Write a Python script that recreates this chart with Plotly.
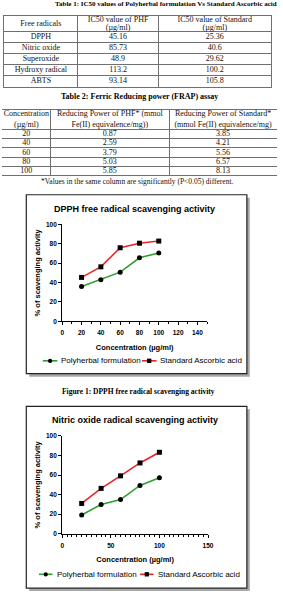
import plotly.graph_objects as go

W, H = 283, 604

# ---------------- data ----------------
t1_radicals = ["DPPH", "Nitric oxide", "Superoxide", "Hydroxy radical", "ABTS"]
t1_phf = ["45.16", "85.73", "48.9", "113.2", "93.14"]
t1_std = ["25.36", "40.6", "29.62", "100.2", "105.8"]
t1_header = ["Free radicals", "IC50 value of PHF<br>(µg/ml)", "IC50 value of Standard<br>(µg/ml)"]

t2_conc = ["20", "40", "60", "80", "100"]
t2_phf = ["0.87", "2.59", "3.79", "5.03", "5.85"]
t2_std = ["3.85", "4.21", "5.56", "6.57", "8.13"]
t2_header = ["Concentration<br>(µg/ml)", "Reducing Power of PHF* (mmol<br>Fe(II) equivalence/mg))",
             "Reducing Power of Standard*<br>(mmol Fe(II) equivalence/mg)"]

conc = [20, 40, 60, 80, 100]
dpph_poly = [35.8, 42.9, 50.7, 65.6, 70.5]
dpph_std = [45.3, 56.2, 75.9, 80.6, 82.8]
no_poly = [19.2, 30.0, 35.0, 49.4, 57.2]
no_std = [31.0, 46.4, 59.2, 72.4, 83.3]

series_names = ["Polyherbal formulation", "Standard Ascorbic acid"]

# ---------------- styles / layout constants ----------------
GREEN = "#2f9e2f"
RED = "#e8262a"
SERIF = "Liberation Serif"
SANS = "Liberation Sans"
LINE = "#707070"

T1_COLW = [76, 83, 116]
T1_HEAD_H, T1_ROW_H, T1_HEAD_GAP = 16, 11.2, 8
T2_COLW = [50, 122, 111]
T2_HEAD_H, T2_ROW_H, T2_HEAD_GAP = 20, 9.3, 10.5


def px(x):
    return x / W


def py(y):
    return 1 - y / H


def cum(vals):
    out = [0]
    for v in vals:
        out.append(out[-1] + v)
    return out


fig = go.Figure()


# ---------------- tables drawn on hidden axes ----------------
def add_table(n, header, columns, colw, head_h, row_h, head_gap, dom_x, top_px, side_border):
    xb = cum(colw)
    nrows = len(columns[0])
    yb = cum([head_h] + [row_h] * nrows)
    xs, ys, ts = [], [], []
    for c in range(len(columns)):
        xc = (xb[c] + xb[c + 1]) / 2
        lines = header[c].split("<br>")
        hc = (yb[0] + yb[1]) / 2
        for li, s in enumerate(lines):
            off = (li - (len(lines) - 1) / 2) * head_gap
            xs.append(xc); ys.append(hc + off); ts.append(s)
        for r, val in enumerate(columns[c]):
            xs.append(xc); ys.append((yb[r + 1] + yb[r + 2]) / 2); ts.append(val)
    fig.add_trace(go.Scatter(x=xs, y=ys, text=ts, mode="text", textposition="middle center",
                             textfont=dict(family=SERIF, size=8, color="#111"),
                             hoverinfo="skip", showlegend=False, cliponaxis=False,
                             xaxis=f"x{n}", yaxis=f"y{n}"))
    bottom_px = top_px + yb[-1]
    fig.update_layout(**{
        f"xaxis{n}": dict(domain=dom_x, anchor=f"y{n}", range=[0, xb[-1]],
                          tickvals=xb[1:-1], showgrid=True, gridcolor=LINE, gridwidth=1,
                          showticklabels=False, ticks="", zeroline=False,
                          showline=True, mirror=True, linecolor=LINE, linewidth=1),
        f"yaxis{n}": dict(domain=[py(bottom_px), py(top_px)], anchor=f"x{n}",
                          range=[yb[-1], 0], tickvals=yb[1:-1], showgrid=True,
                          gridcolor=LINE, gridwidth=1, showticklabels=False, ticks="",
                          zeroline=False, showline=side_border, mirror=side_border,
                          linecolor=LINE, linewidth=1),
    })


add_table(3, t1_header, [t1_radicals, t1_phf, t1_std], T1_COLW, T1_HEAD_H, T1_ROW_H,
          T1_HEAD_GAP, [px(2), px(277)], 12, True)
add_table(4, t2_header, [t2_conc, t2_phf, t2_std], T2_COLW, T2_HEAD_H, T2_ROW_H,
          T2_HEAD_GAP, [0, 1], 107, False)

# ---------------- line charts ----------------
for i, (poly, std) in enumerate([(dpph_poly, dpph_std), (no_poly, no_std)]):
    xa = "x" if i == 0 else "x2"
    ya = "y" if i == 0 else "y2"
    fig.add_trace(go.Scatter(x=conc, y=poly, mode="lines+markers", name=series_names[0],
                             line=dict(color=GREEN, width=1.6),
                             marker=dict(symbol="circle", size=5, color="black"),
                             xaxis=xa, yaxis=ya, showlegend=False, cliponaxis=False))
    fig.add_trace(go.Scatter(x=conc, y=std, mode="lines+markers", name=series_names[1],
                             line=dict(color=RED, width=1.6),
                             marker=dict(symbol="square", size=5, color="black"),
                             xaxis=xa, yaxis=ya, showlegend=False, cliponaxis=False))

tickfont = dict(family=SANS, size=6.5, color="black", weight="bold")
titlefont = dict(family=SANS, size=7.5, color="black", weight="bold")

common_x = dict(range=[0, 150], showline=True, linecolor="black", linewidth=1.3,
                ticks="outside", ticklen=3, tickwidth=1.2, tickcolor="black",
                showgrid=False, zeroline=False, tickfont=tickfont, ticklabelstandoff=2,
                title=dict(text="Concentration (µg/ml)", font=titlefont, standoff=9))
common_y = dict(range=[0, 100], tickvals=[0, 20, 40, 60, 80, 100], showline=True,
                linecolor="black", linewidth=1.3, ticks="outside", ticklen=3,
                tickwidth=1.2, tickcolor="black", showgrid=False, zeroline=False,
                tickfont=tickfont,
                title=dict(text="% of scavenging activity", font=titlefont, standoff=4))

fig.update_layout(
    xaxis=dict(domain=[px(62), px(211)], anchor="y",
               tickvals=[0, 20, 40, 60, 80, 100, 120, 140],
               minor=dict(dtick=10, ticks="outside", ticklen=2, tickcolor="black", tickwidth=1),
               **common_x),
    yaxis=dict(domain=[py(321), py(223)], anchor="x", **common_y),
    xaxis2=dict(domain=[px(62), px(212)], anchor="y2",
                tickvals=[0, 50, 100, 150],
                minor=dict(dtick=5, ticks="outside", ticklen=2, tickcolor="black", tickwidth=1),
                **common_x),
    yaxis2=dict(domain=[py(536), py(437)], anchor="x2", **common_y),
)

# ---------------- boxes (with shadow) ----------------
shapes = []
for (x0, y0, x1, y1) in [(25, 193, 252, 374), (25, 407, 252, 591)]:
    shapes.append(dict(type="rect", xref="paper", yref="paper", layer="below",
                       x0=px(x0 + 3), x1=px(x1 + 3), y0=py(y1 + 3), y1=py(y0 + 3),
                       fillcolor="#a8a8a8", line=dict(width=0)))
    shapes.append(dict(type="rect", xref="paper", yref="paper", layer="below",
                       x0=px(x0), x1=px(x1), y0=py(y1), y1=py(y0),
                       fillcolor="white", line=dict(color="#222", width=1.2)))

ann = []


def text(x, y, s, font, anchor="center"):
    ann.append(dict(x=px(x), y=py(y), xref="paper", yref="paper", text=s, showarrow=False,
                    xanchor=anchor, yanchor="middle", font=font))


# ---------------- legends (key + label) ----------------
legfont = dict(family=SANS, size=8, color="black")
for (ly, keys) in [(361, [(42, 57, 59), (144, 159, 161)]),
                   (577, [(38, 52, 55), (142, 156, 158)])]:
    for k, (lx0, lx1, tx) in enumerate(keys):
        col = GREEN if k == 0 else RED
        shapes.append(dict(type="line", xref="paper", yref="paper",
                           x0=px(lx0), x1=px(lx1), y0=py(ly), y1=py(ly),
                           line=dict(color=col, width=1.6)))
        cx = (lx0 + lx1) / 2
        shapes.append(dict(type="circle" if k == 0 else "rect", xref="paper", yref="paper",
                           x0=px(cx - 2.2), x1=px(cx + 2.2), y0=py(ly + 2.2), y1=py(ly - 2.2),
                           fillcolor="black", line=dict(width=0)))
        text(tx, ly, series_names[k], legfont, anchor="left")

# ---------------- texts ----------------
serif_b = dict(family=SERIF, size=8, color="black", weight="bold")
text(169, 0, "Table 1: IC50 values of Polyherbal formulation Vs Standard Ascorbic acid",
     dict(family=SERIF, size=7, color="black", weight="bold"))
text(141, 94, "Table 2: Ferric Reducing power (FRAP) assay", serif_b)
text(139, 180, "*Values in the same column are significantly (P&lt;0.05) different.",
     dict(family=SERIF, size=7.5, color="#111"))
text(136, 207, "DPPH free radical scavenging activity",
     dict(family=SANS, size=9, color="black", weight="bold"))
text(137, 421, "Nitric oxide radical scavenging activity",
     dict(family=SANS, size=9, color="black", weight="bold"))
text(140, 392, "Figure 1: DPPH free radical scavenging activity",
     dict(family=SERIF, size=7.5, color="black", weight="bold"))

fig.update_layout(
    width=W, height=H, autosize=False, showlegend=False,
    margin=dict(l=0, r=0, t=0, b=0),
    paper_bgcolor="white", plot_bgcolor="rgba(0,0,0,0)",
    shapes=shapes, annotations=ann,
)

fig.write_html("out.html")
